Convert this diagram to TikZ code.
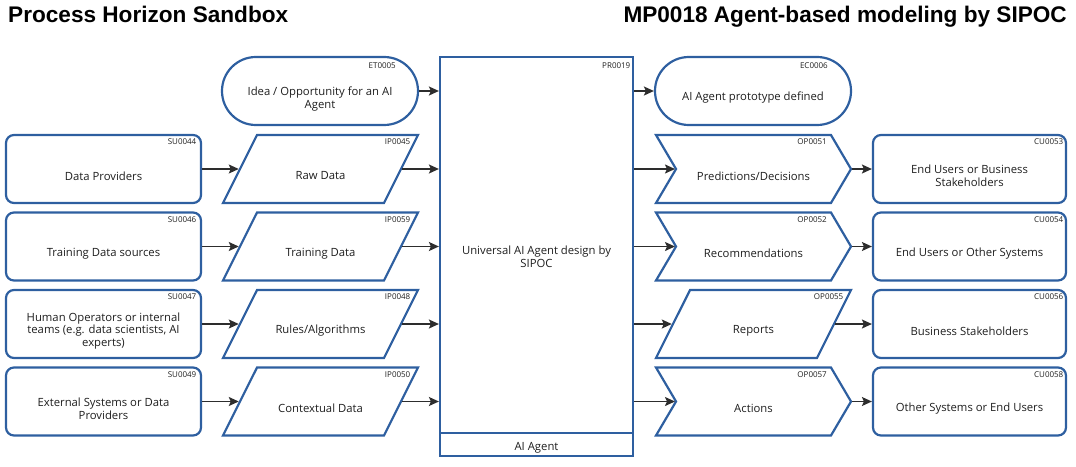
\documentclass[tikz,border=0pt]{standalone}
\usepackage{fontspec}
\setmainfont{Open Sans}
\newfontfamily\titelfont{Liberation Sans}
\usetikzlibrary{shapes.geometric,shapes.symbols,arrows.meta}

\definecolor{sipocblau}{RGB}{46,95,160}
\definecolor{pfeilgrau}{RGB}{45,45,45}
\definecolor{textgrau}{RGB}{30,30,30}

\tikzset{
    form/.style={draw=sipocblau, line width=2.2pt, minimum height=68pt, inner sep=3pt},
    kasten/.style={form, rounded corners=8pt, minimum width=195pt},
    ereignis/.style={form, rounded corners=33.9pt, minimum width=196pt},
    daten/.style={form, trapezium, trapezium left angle=75, trapezium right angle=105,
        trapezium stretches=true, minimum width=195pt},
    ausgabe/.style={form, signal, signal to=east, signal from=west,
        signal pointer angle=119, minimum width=195pt},
    inhalt/.style={align=center, text=textgrau, font=\fontsize{11.3}{12.7}\selectfont},
    kennung/.style={anchor=east, text=textgrau, inner sep=0pt, font=\fontsize{8}{8}\selectfont},
    titel/.style={font=\titelfont\bfseries\fontsize{22.6}{24}\selectfont, inner sep=0pt},
    pfeil/.style={draw=pfeilgrau, line width=1.6pt, -{Stealth[length=10pt, width=9pt, inset=2pt]}},
}

\begin{document}
\begin{tikzpicture}[x=1pt, y=-1pt]
    \useasboundingbox (0,0) rectangle (1076,466);

    % Titel
    \node[titel, anchor=base west] (T1) at (8,22) {Process Horizon Sandbox};
    \node[titel, anchor=base east] (T2) at (1067,22) {MP0018 Agent-based modeling by SIPOC};

    % Prozess
    \node[form, minimum width=193pt, minimum height=399pt] (PR) at (536.5,256.5) {};
    \node[form, minimum width=193pt, minimum height=23pt, anchor=south] (AG) at (PR.south) {};

    % Ereignisse
    \node[ereignis] (ET) at (320,91) {};
    \node[ereignis] (EC) at (753,91) {};

    % Lieferanten
    \node[kasten] (SU1) at (103.5,169) {};
    \node[kasten] (SU2) at (103.5,246.5) {};
    \node[kasten] (SU3) at (103.5,324) {};
    \node[kasten] (SU4) at (103.5,401.5) {};

    % Eingaben
    \node[daten] (IP1) at (320.5,169) {};
    \node[daten] (IP2) at (320.5,246.5) {};
    \node[daten] (IP3) at (320.5,324) {};
    \node[daten] (IP4) at (320.5,401.5) {};

    % Ausgaben
    \node[ausgabe] (OP1) at (753.5,169) {};
    \node[ausgabe] (OP2) at (753.5,246.5) {};
    \node[daten] (OP3) at (753.5,324) {};
    \node[ausgabe] (OP4) at (753.5,401.5) {};

    % Kunden
    \node[kasten, minimum width=193pt] (CU1) at (969.5,169) {};
    \node[kasten, minimum width=193pt] (CU2) at (969.5,246.5) {};
    \node[kasten, minimum width=193pt] (CU3) at (969.5,324) {};
    \node[kasten, minimum width=193pt] (CU4) at (969.5,401.5) {};

    % Texte
    \draw (PR) +(0,0) node[inhalt] (PRt) {Universal AI Agent design by\\SIPOC};
    \draw (AG) +(0,3) node[inhalt] (AGt) {AI Agent};
    \draw (ET) +(0,8) node[inhalt] (ETt) {Idea / Opportunity for an AI\\Agent};
    \draw (EC) +(0,7) node[inhalt] (ECt) {AI Agent prototype defined};
    \draw (SU1) +(0,7) node[inhalt] (SU1t) {Data Providers};
    \draw (SU2) +(0,7) node[inhalt] (SU2t) {Training Data sources};
    \draw (SU3) +(0,7) node[inhalt] (SU3t) {Human Operators or internal\\teams (e.g. data scientists, AI\\experts)};
    \draw (SU4) +(0,7) node[inhalt] (SU4t) {External Systems or Data\\Providers};
    \draw (IP1) +(0,7) node[inhalt] (IP1t) {Raw Data};
    \draw (IP2) +(0,7) node[inhalt] (IP2t) {Training Data};
    \draw (IP3) +(0,7) node[inhalt] (IP3t) {Rules/Algorithms};
    \draw (IP4) +(0,7) node[inhalt] (IP4t) {Contextual Data};
    \draw (OP1) +(0,7) node[inhalt] (OP1t) {Predictions/Decisions};
    \draw (OP2) +(0,7) node[inhalt] (OP2t) {Recommendations};
    \draw (OP3) +(0,7) node[inhalt] (OP3t) {Reports};
    \draw (OP4) +(0,7) node[inhalt] (OP4t) {Actions};
    \draw (CU1) +(0,7) node[inhalt] (CU1t) {End Users or Business\\Stakeholders};
    \draw (CU2) +(0,7) node[inhalt] (CU2t) {End Users or Other Systems};
    \draw (CU3) +(0,7) node[inhalt] (CU3t) {Business Stakeholders};
    \draw (CU4) +(0,7) node[inhalt] (CU4t) {Other Systems or End Users};

    % Kennungen
    \draw (PR) +(94,-190.5) node[kennung] (PRk) {PR0019};
    \draw (ET) +(76,-25) node[kennung] (ETk) {ET0005};
    \draw (EC) +(75,-25) node[kennung] (ECk) {EC0006};
    \draw (SU1) +(93,-27) node[kennung] (SU1k) {SU0044};
    \draw (SU2) +(93,-27) node[kennung] (SU2k) {SU0046};
    \draw (SU3) +(93,-27) node[kennung] (SU3k) {SU0047};
    \draw (SU4) +(93,-27) node[kennung] (SU4k) {SU0049};
    \draw (IP1) +(90,-27) node[kennung] (IP1k) {IP0045};
    \draw (IP2) +(90,-27) node[kennung] (IP2k) {IP0059};
    \draw (IP3) +(90,-27) node[kennung] (IP3k) {IP0048};
    \draw (IP4) +(90,-27) node[kennung] (IP4k) {IP0050};
    \draw (OP1) +(73.5,-27) node[kennung] (OP1k) {OP0051};
    \draw (OP2) +(73.5,-27) node[kennung] (OP2k) {OP0052};
    \draw (OP3) +(90,-27) node[kennung] (OP3k) {OP0055};
    \draw (OP4) +(73.5,-27) node[kennung] (OP4k) {OP0057};
    \draw (CU1) +(94,-27) node[kennung] (CU1k) {CU0053};
    \draw (CU2) +(94,-27) node[kennung] (CU2k) {CU0054};
    \draw (CU3) +(94,-27) node[kennung] (CU3k) {CU0056};
    \draw (CU4) +(94,-27) node[kennung] (CU4k) {CU0058};

    % Relationen
    \draw[pfeil] (ET.east) -- (ET -| PR.west);
    \draw[pfeil] (PR.east |- EC) -- (EC.west);
    \draw[pfeil] (SU1.east) -- (IP1.left side);
    \draw[pfeil] (SU2.east) -- (IP2.left side);
    \draw[pfeil] (SU3.east) -- (IP3.left side);
    \draw[pfeil] (SU4.east) -- (IP4.left side);
    \draw[pfeil] (IP1.right side) -- (IP1 -| PR.west);
    \draw[pfeil] (IP2.right side) -- (IP2 -| PR.west);
    \draw[pfeil] (IP3.right side) -- (IP3 -| PR.west);
    \draw[pfeil] (IP4.right side) -- (IP4 -| PR.west);
    \draw[pfeil] (PR.east |- OP1) -- ([xshift=-78.5pt]OP1.center);
    \draw[pfeil] (PR.east |- OP2) -- ([xshift=-78.5pt]OP2.center);
    \draw[pfeil] (PR.east |- OP3) -- (OP3.left side);
    \draw[pfeil] (PR.east |- OP4) -- ([xshift=-78.5pt]OP4.center);
    \draw[pfeil] (OP1.east) -- (CU1.west);
    \draw[pfeil] (OP2.east) -- (CU2.west);
    \draw[pfeil] (OP3.right side) -- (CU3.west);
    \draw[pfeil] (OP4.east) -- (CU4.west);
\end{tikzpicture}
\end{document}
